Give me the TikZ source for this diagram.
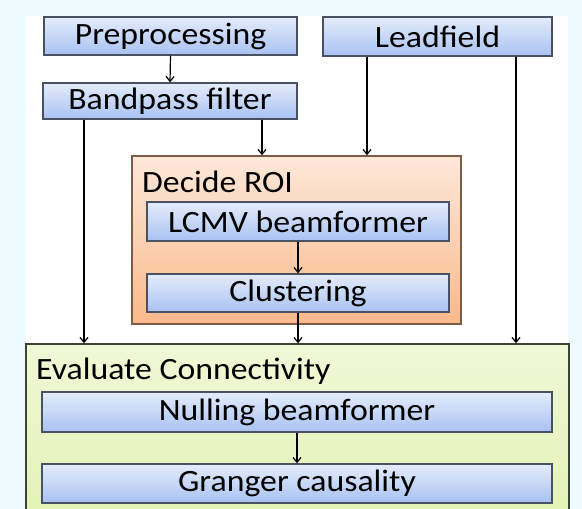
\documentclass[tikz,border=0pt]{standalone}
\usepackage{fontspec}
\setmainfont{Carlito}[FakeStretch=1.09]
\usetikzlibrary{arrows.meta,shadings}
\definecolor{bgcyan}{HTML}{EEFBFE}
\definecolor{boxtop}{HTML}{E4ECFB}
\definecolor{boxbot}{HTML}{A8C2F2}
\definecolor{boxline}{HTML}{4A5163}
\definecolor{roitop}{HTML}{FDE8D8}
\definecolor{roibot}{HTML}{F9B98A}
\definecolor{roiline}{HTML}{7A5C48}
\definecolor{conntop}{HTML}{F0F8D6}
\definecolor{connbot}{HTML}{E3F2B6}
\definecolor{connline}{HTML}{3C4434}
\tikzset{
  stepbox/.style={draw=boxline,line width=1.3pt,top color=boxtop,bottom color=boxbot,
    inner sep=0pt,font=\fontsize{31}{36}\selectfont},
  group/.style={line width=1.3pt,inner sep=0pt},
  arr/.style={line width=1.2pt,-{Straight Barb[length=5pt,width=8pt,line width=1.2pt]}}
}
\begin{document}
\begin{tikzpicture}[x=1pt,y=1pt]
  \useasboundingbox (0,0) rectangle (582,-509);
  \fill[bgcyan] (0,0) rectangle (582,-509);
  \fill[white] (26,-16) rectangle (568,-509);
  % top row
  \node[stepbox,minimum width=253pt,minimum height=38pt] (pre) at (170.5,-36) {Preprocessing};
  \node[stepbox,minimum width=229pt,minimum height=39pt] (lead) at (437.5,-36.5) {Leadfield};
  \node[stepbox,minimum width=254pt,minimum height=36pt] (band) at (170,-101) {Bandpass filter};
  % Decide ROI
  \node[group,draw=roiline,top color=roitop,bottom color=roibot,
    minimum width=329pt,minimum height=168pt] (roi) at (296.5,-240) {};
  \node[anchor=west,font=\fontsize{31}{36}\selectfont,inner sep=0pt] (roilab) at (142,-182) {Decide ROI};
  \node[stepbox,minimum width=302pt,minimum height=39pt] (lcmv) at (298,-221.5) {LCMV beamformer};
  \node[stepbox,minimum width=302pt,minimum height=38pt] (clus) at (298,-293) {Clustering};
  % Evaluate Connectivity
  \node[group,draw=connline,top color=conntop,bottom color=connbot,
    minimum width=543pt,minimum height=170pt] (conn) at (297.5,-429) {};
  \node[anchor=west,font=\fontsize{31}{36}\selectfont,inner sep=0pt] (connlab) at (36,-371) {Evaluate Connectivity};
  \node[stepbox,minimum width=510pt,minimum height=40pt] (null) at (297,-412) {Nulling beamformer};
  \node[stepbox,minimum width=510pt,minimum height=39pt] (gran) at (297,-483.5) {Granger causality};
  % connectors
  \draw[arr] (pre.south) -- (band.north);
  \draw[arr] ([xshift=-86pt]band.south) -- ([xshift=-86pt]band.south |- conn.north);
  \draw[arr] ([xshift=92pt]band.south) -- ([xshift=92pt]band.south |- roi.north);
  \draw[arr] ([xshift=-70.5pt]lead.south) -- ([xshift=-70.5pt]lead.south |- roi.north);
  \draw[arr] ([xshift=78.5pt]lead.south) -- ([xshift=78.5pt]lead.south |- conn.north);
  \draw[arr] (lcmv.south) -- (clus.north);
  \draw[arr] (clus.south) -- (clus.south |- conn.north);
  \draw[arr] (null.south) -- (gran.north);
\end{tikzpicture}
\end{document}
